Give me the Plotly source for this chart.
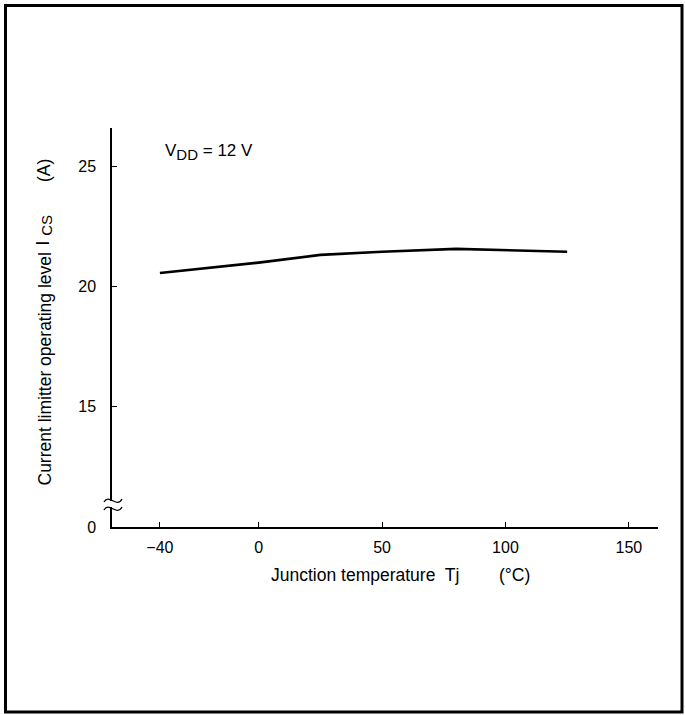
import plotly.graph_objects as go

# Data
temperature = [-40, 0, 25, 50, 80, 100, 125]
current_limit = [20.57, 21.0, 21.32, 21.45, 21.57, 21.52, 21.45]

x_ticks = [-40, 0, 50, 100, 150]
x_tick_labels = ["−40", "0", "50", "100", "150"]
y_ticks = [10, 15, 20, 25]
y_tick_labels = ["0", "15", "20", "25"]

W, H = 685, 715
L, R, T, B = 112, 658, 128, 527  # plot area in pixels


def px(q):
    return (q - L) / (R - L)


def py(p):
    return (B - p) / (B - T)


FONT = "Liberation Sans, Arial, Helvetica, sans-serif"
TITLE_SIZE = 17.5

fig = go.Figure()
fig.add_trace(go.Scatter(
    x=temperature, y=current_limit, mode="lines",
    line=dict(color="black", width=2.6), showlegend=False,
))

fig.update_layout(
    width=W, height=H,
    margin=dict(l=L, r=W - R, t=T, b=H - B),
    paper_bgcolor="white", plot_bgcolor="white",
    font=dict(family=FONT, size=16, color="black"),
    xaxis=dict(
        range=[-59.4, 161.8], tickvals=x_ticks, ticktext=x_tick_labels,
        ticks="inside", ticklen=5, tickwidth=1.2, tickcolor="black",
        showline=True, linecolor="black", linewidth=1.5,
        showgrid=False, zeroline=False, ticklabelstandoff=5,
    ),
    yaxis=dict(
        range=[10, 26.6], tickvals=y_ticks, ticktext=y_tick_labels,
        ticks="inside", ticklen=5, tickwidth=1.2, tickcolor="black",
        showline=True, linecolor="black", linewidth=1.5,
        showgrid=False, zeroline=False, ticklabelstandoff=11,
    ),
)

shapes = []
# axis break: white gap plus two squiggles
shapes.append(dict(type="rect", xref="paper", yref="paper",
                   x0=px(106), x1=px(118), y0=py(507), y1=py(501),
                   fillcolor="white", line=dict(width=0), layer="above"))
for off in (0, 8):
    path = "M {:.4f},{:.4f} C {:.4f},{:.4f} {:.4f},{:.4f} {:.4f},{:.4f}".format(
        px(104), py(502 + off), px(109), py(493 + off),
        px(117), py(509 + off), px(122), py(499 + off))
    shapes.append(dict(type="path", xref="paper", yref="paper", path=path,
                       line=dict(color="black", width=1.3), layer="above"))
# outer frame
shapes.append(dict(type="rect", xref="paper", yref="paper",
                   x0=px(5.5), x1=px(682), y0=py(712), y1=py(5.5),
                   line=dict(color="black", width=3), fillcolor="rgba(0,0,0,0)"))
fig.update_layout(shapes=shapes)

SUB = "<sub><span style='font-size:15px'>{}</span></sub>"

# condition label
fig.add_annotation(xref="paper", yref="paper", x=px(163), y=py(152),
                   xanchor="left", yanchor="middle", showarrow=False,
                   text="V" + SUB.format("DD") + " = 12 V", font=dict(size=17))
# x-axis title (two parts)
fig.add_annotation(xref="paper", yref="paper", x=px(269), y=py(575),
                   xanchor="left", yanchor="middle", showarrow=False,
                   text="Junction temperature  Tj", font=dict(size=TITLE_SIZE))
fig.add_annotation(xref="paper", yref="paper", x=px(497), y=py(575),
                   xanchor="left", yanchor="middle", showarrow=False,
                   text="(°C)", font=dict(size=TITLE_SIZE))
# y-axis title (three parts)
fig.add_annotation(xref="paper", yref="paper", x=px(44), y=py(488),
                   xanchor="center", yanchor="bottom", showarrow=False,
                   textangle=-90, text="Current limitter operating level",
                   font=dict(size=TITLE_SIZE))
fig.add_annotation(xref="paper", yref="paper", x=px(44), y=py(248),
                   xanchor="center", yanchor="bottom", showarrow=False,
                   textangle=-90, text="I " + SUB.format("CS"),
                   font=dict(size=TITLE_SIZE))
fig.add_annotation(xref="paper", yref="paper", x=px(44), y=py(171),
                   xanchor="center", yanchor="middle", showarrow=False,
                   textangle=-90, text="(A)",
                   font=dict(size=TITLE_SIZE))

fig.write_html("out.html", config={"displayModeBar": False},
               post_script="document.body.style.margin='0';")
